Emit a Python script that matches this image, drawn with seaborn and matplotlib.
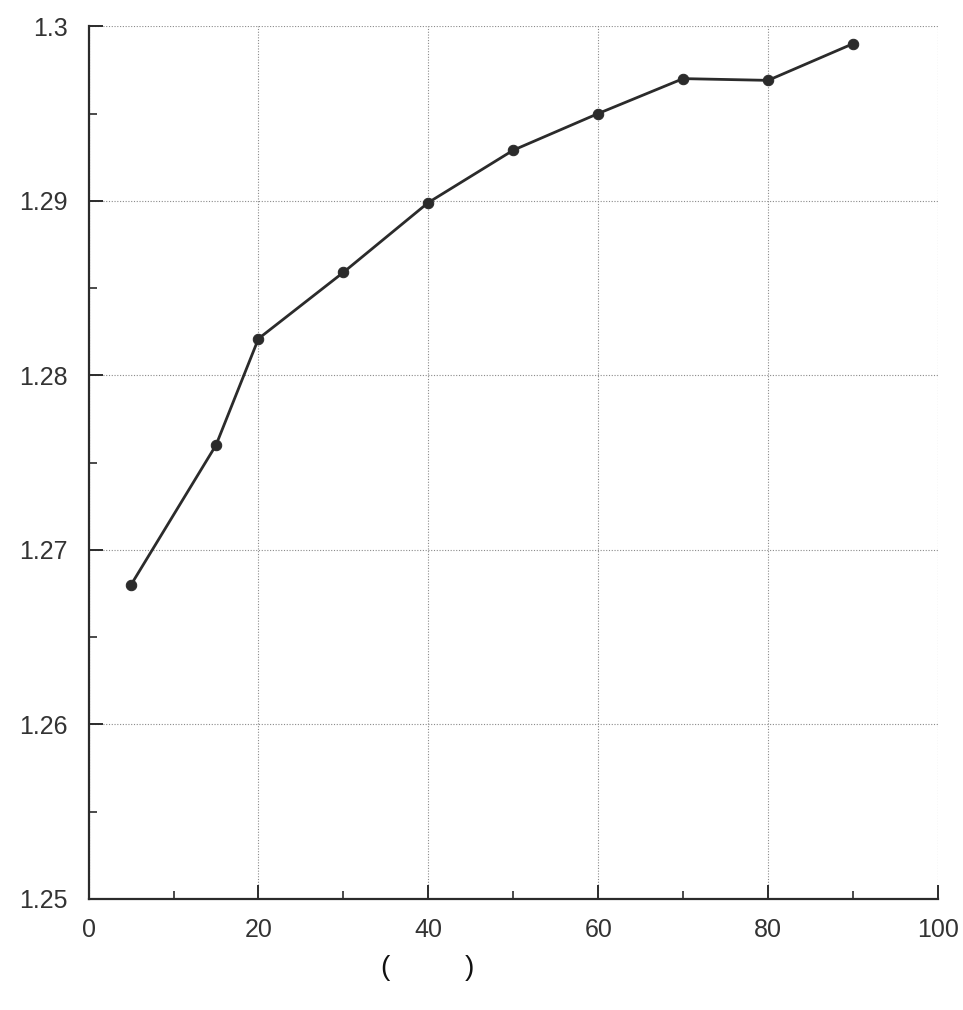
import matplotlib
matplotlib.use("Agg")
import matplotlib.pyplot as plt
from matplotlib.ticker import MultipleLocator
import seaborn as sns
import pandas as pd

# Measured series
x_values = [5, 15, 20, 30, 40, 50, 60, 70, 80, 90]
y_values = [1.2680, 1.2760, 1.2821, 1.2859, 1.2899, 1.2929, 1.2950, 1.2970, 1.2969, 1.2990]
x_ticks = [0, 20, 40, 60, 80, 100]
y_ticks = [1.25, 1.26, 1.27, 1.28, 1.29, 1.30]
y_tick_labels = ["1.25", "1.26", "1.27", "1.28", "1.29", "1.3"]
caption_left = "("
caption_right = ")"

sns.set_style("white")
plt.rcParams["font.family"] = ["Liberation Sans", "DejaVu Sans"]

df = pd.DataFrame({"x": x_values, "y": y_values})

fig = plt.figure(figsize=(9.63, 10.10), dpi=100)
ax = fig.add_axes([0.092, 0.110, 0.882, 0.864])

sns.lineplot(data=df, x="x", y="y", ax=ax, color="#2b2b2b", linewidth=2.0,
             marker="o", markersize=7.5, markeredgecolor="#2b2b2b",
             markerfacecolor="#2b2b2b")

ax.set_xlim(0, 100)
ax.set_ylim(1.25, 1.30)
ax.set_xticks(x_ticks)
ax.set_yticks(y_ticks)
ax.set_yticklabels(y_tick_labels)
ax.xaxis.set_minor_locator(MultipleLocator(10))
ax.yaxis.set_minor_locator(MultipleLocator(0.005))
ax.set_xlabel("")
ax.set_ylabel("")

ax.grid(True, which="major", linestyle=(0, (1, 1.5)), color="#8a8a8a", linewidth=0.8)
ax.set_axisbelow(True)

for side in ("top", "right"):
    ax.spines[side].set_visible(False)
for side in ("left", "bottom"):
    ax.spines[side].set_color("#2b2b2b")
    ax.spines[side].set_linewidth(1.6)

# inward ticks on the bottom and left axes only
ax.tick_params(axis="both", which="both", bottom=True, left=True, top=False, right=False)
ax.tick_params(axis="both", which="major", direction="in", length=10, width=1.4,
               color="#2b2b2b", labelsize=18, labelcolor="#333333")
ax.tick_params(axis="both", which="minor", direction="in", length=5.5, width=1.2,
               color="#2b2b2b")
ax.tick_params(axis="x", which="major", pad=14)
ax.tick_params(axis="y", which="major", pad=15)

fig.text(0.400, 0.042, caption_left, ha="center", va="center", fontsize=20, color="#111111")
fig.text(0.487, 0.042, caption_right, ha="center", va="center", fontsize=20, color="#111111")

fig.savefig("out.png", dpi=100, facecolor="white")
